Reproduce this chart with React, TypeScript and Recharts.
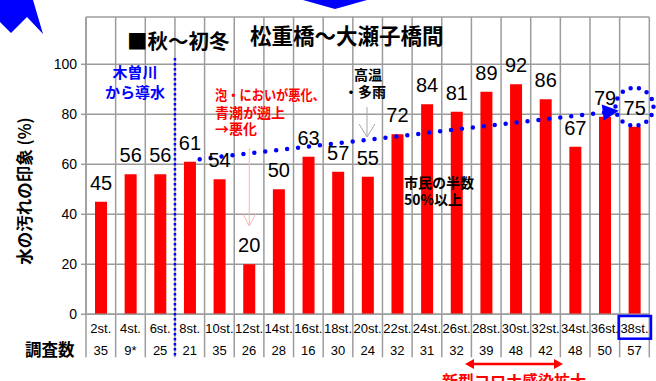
import React from 'react';
import { ComposedChart, Bar, Line, XAxis, YAxis, CartesianGrid, LabelList, ReferenceDot } from 'recharts';

// survey stations (x categories)
const stations = ['2st.', '4st.', '6st.', '8st.', '10st.', '12st.', '14st.', '16st.', '18st.', '20st.', '22st.', '24st.', '26st.', '28st.', '30st.', '32st.', '34st.', '36st.', '38st.'];
// number of surveys per station
const counts = ['35', '9*', '25', '21', '35', '26', '28', '16', '30', '24', '32', '31', '32', '39', '48', '42', '48', '50', '57'];
// impression of dirty water (%)
const impression = [45, 56, 56, 61, 54, 20, 50, 63, 57, 55, 72, 84, 81, 89, 92, 86, 67, 79, 75];
// hand drawn trend arrow: start and end only
const trend = [null, null, null, 61.6, null, null, null, null, null, null, null, null, null, null, null, null, null, 80.8, null];
const yTicks = [0, 20, 40, 60, 80, 100];

const W = 656;
const H = 381;
const PLOT_LEFT = 86;
const PLOT_RIGHT = 649.3;
const PLOT_TOP = 17;
const PLOT_BOTTOM = 314.3;
const BAND = (PLOT_RIGHT - PLOT_LEFT) / stations.length;
const Y_MAX = (PLOT_BOTTOM - PLOT_TOP) / 2.5;
const X_AXIS_H = 45;

const GRID = '#9c9c9c';
const BLUE = '#0000ff';
const RED = '#ff0000';
const FONT = "'Liberation Sans', Arial, 'Noto Sans CJK JP', sans-serif";
const JP = "'Noto Sans CJK JP', 'Liberation Sans', sans-serif";

const data = stations.map((st, i) => ({ st, value: impression[i], trend: trend[i] }));

const StationTick = (props: any) => {
  const { x, y, payload } = props;
  const i = payload.index;
  const half = BAND / 2;
  return (
    <g>
      <line x1={x + half} x2={x + half} y1={y} y2={y + 43} stroke={GRID} strokeWidth={1.5} />
      {i === 0 && <line x1={x - half} x2={x - half} y1={y} y2={y + 43} stroke={GRID} strokeWidth={1.5} />}
      <text x={x} y={y + 19} textAnchor="middle" fontSize={13} fontFamily={FONT} fill="#000">{payload.value}</text>
      <text x={x} y={y + 40.5} textAnchor="middle" fontSize={13} fontFamily={FONT} fill="#000">{counts[i]}</text>
      {i === stations.length - 1 && (
        <rect x={x - 15.8} y={y + 1.7} width={32.3} height={22.7} fill="none" stroke={BLUE} strokeWidth={2.5} />
      )}
    </g>
  );
};

const ArrowHead = (props: any) => {
  const { cx, cy, index } = props;
  if (index !== 17 || cx == null) return <g key={`d${index}`} />;
  const pts = `${cx + 14},${cy - 1.6} ${cx - 1},${cy + 8.2} ${cx - 3},${cy - 7.8}`;
  return <polygon key={`d${index}`} points={pts} fill={BLUE} />;
};

const Overlay = () => {
  const sep = PLOT_LEFT + 3 * BAND;
  return (
    <svg width={W} height={H} style={{ position: 'absolute', left: 0, top: 0, pointerEvents: 'none' }}>
      {/* cut-off arrows from the slide */}
      <polygon points="0,0 33,0 43,34 27,17 11,33 0,22" fill={BLUE} />
      <polygon points="303,0 367,0 335,9" fill={BLUE} />

      <text x={127} y={49} fontSize={20.5} fontWeight="bold" fontFamily={JP} fill="#000">■秋～初冬</text>
      <text x={250} y={44} fontSize={21.5} fontWeight="bold" fontFamily={JP} fill="#000">松重橋～大瀬子橋間</text>

      <line x1={sep} x2={sep} y1={58} y2={357} stroke={BLUE} strokeWidth={2.5} strokeDasharray="2.5 2.5" />

      <g fontFamily={JP} fontWeight="bold" fontSize={15} fill={BLUE} textAnchor="middle">
        <text x={135} y={78}>木曽川</text>
        <text x={135} y={98}>から導水</text>
      </g>

      <g fontFamily={JP} fontWeight="bold" fontSize={14} fill={RED}>
        <text x={215} y={100} textLength={110} lengthAdjust="spacingAndGlyphs">泡・においが悪化、</text>
        <text x={215} y={118}>青潮が遡上</text>
        <text x={215} y={134}>→悪化</text>
      </g>

      {/* pink arrow at 12st */}
      <g stroke="#ffb4b4" strokeWidth={1} fill="none">
        <line x1={249.3} x2={249.3} y1={148} y2={226} />
        <polyline points="242.5,213 249.3,226 256,213" />
      </g>

      <g fontFamily={JP} fontWeight="bold" fontSize={14} fill="#000">
        <text x={354} y={80}>高温</text>
        <text x={344} y={97}>・多雨</text>
        <text x={404} y={188}>市民の半数</text>
        <text x={404} y={205}>50%以上</text>
      </g>
      <g stroke="#a8a8a8" strokeWidth={1} fill="none">
        <line x1={367} x2={367} y1={107} y2={137} />
        <polyline points="359,124 367,137 375,124" />
      </g>

      <text
        transform="translate(31,191) rotate(-90)"
        textAnchor="middle"
        fontSize={16.5}
        fontWeight="bold"
        fontFamily={JP}
        fill="#000"
      >
        水の汚れの印象 (%)
      </text>
      <text x={25} y={356} fontSize={16.5} fontWeight="bold" fontFamily={JP} fill="#000">調査数</text>

      {/* covid period arrow */}
      <line x1={472} x2={556} y1={364} y2={364} stroke={RED} strokeWidth={2.5} />
      <polygon points="465,364 474,359 474,369" fill={RED} />
      <polygon points="563,364 554,359 554,369" fill={RED} />
      <text x={514} y={387} textAnchor="middle" fontSize={16} fontWeight="bold" fontFamily={JP} fill={RED}>新型コロナ感染拡大</text>
    </svg>
  );
};

export default function App() {
  const vGrid = ({ offset }: any) =>
    stations.map((_, i) => offset.left + (i * offset.width) / stations.length).concat(offset.left + offset.width);

  return (
    <div style={{ position: 'fixed', left: 0, top: 0, width: W, height: H, background: '#fff' }}>
      <ComposedChart
        width={W}
        height={H}
        data={data}
        margin={{ top: PLOT_TOP, right: W - PLOT_RIGHT, left: 0, bottom: H - PLOT_BOTTOM - X_AXIS_H }}
        barCategoryGap={0}
      >
        <CartesianGrid stroke={GRID} strokeWidth={1.5} verticalCoordinatesGenerator={vGrid} />
        <XAxis
          dataKey="st"
          interval={0}
          height={X_AXIS_H}
          tickLine={false}
          tickSize={0}
          tickMargin={0}
          axisLine={{ stroke: GRID, strokeWidth: 1.5 }}
          tick={<StationTick />}
        />
        <YAxis
          width={PLOT_LEFT}
          domain={[0, Y_MAX]}
          ticks={yTicks}
          tickSize={5}
          tickMargin={4}
          tickLine={{ stroke: GRID, strokeWidth: 1.5 }}
          axisLine={{ stroke: GRID, strokeWidth: 1.5 }}
          tick={{ fill: '#000', fontSize: 14, fontFamily: FONT }}
          allowDataOverflow
        />
        <Bar dataKey="value" fill={RED} barSize={12} isAnimationActive={false}>
          <LabelList dataKey="value" position="top" offset={12} fontSize={20} fill="#000" fontFamily={FONT} />
        </Bar>
        <Line
          dataKey="trend"
          connectNulls
          stroke={BLUE}
          strokeWidth={4.5}
          strokeDasharray="0 11"
          strokeDashoffset={1}
          strokeLinecap="round"
          dot={ArrowHead}
          activeDot={false}
          isAnimationActive={false}
        />
        <ReferenceDot
          x="38st."
          y={83}
          r={19}
          fill="none"
          stroke={BLUE}
          strokeWidth={4.5}
          strokeDasharray="0 8.5"
          strokeLinecap="round"
        />
      </ComposedChart>
      <Overlay />
    </div>
  );
}
